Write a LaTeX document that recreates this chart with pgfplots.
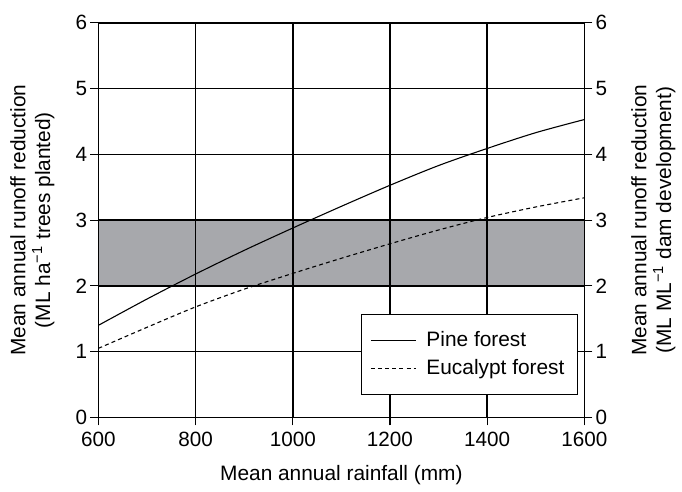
\documentclass[border=0pt]{standalone}
\usepackage{pgfplots}
\pgfplotsset{compat=1.18}
\usepackage{fontspec}
\setmainfont{Liberation Sans}
\definecolor{bandgray}{RGB}{167,168,172}
\pgfplotstableread{
x y
600 1.40
700 1.80
800 2.18
900 2.54
1000 2.88
1100 3.21
1200 3.53
1300 3.83
1400 4.09
1500 4.33
1600 4.53
}\pine
\pgfplotstableread{
x y
600 1.05
700 1.37
800 1.68
900 1.95
1000 2.19
1100 2.42
1200 2.64
1300 2.85
1400 3.04
1500 3.20
1600 3.34
}\euc
\begin{document}
\begin{tikzpicture}
\pgfplotsset{every axis/.append style={
  scale only axis, width=244.5pt, height=198.5pt,
  xmin=600, xmax=1600, ymin=0, ymax=6,
  tick align=outside, major tick length=4pt,
  tick style={black, line width=0.6pt},
  axis line style={line width=0.8pt},
  /pgf/number format/assume math mode=true,
  tick label style={font=\fontsize{10.4}{12}\selectfont},
  yticklabel style={inner sep=1.5pt},
  label style={font=\fontsize{10.5}{12.4}\selectfont, align=center},
  /pgf/number format/1000 sep={},
}}
\begin{axis}[
  axis on top,
  xtick={600,800,...,1600}, ytick={0,...,6},
  xtick pos=bottom, ytick pos=left,
  grid=major, major grid style={black, line width=0.8pt},
  xlabel={Mean annual rainfall (mm)},
  ylabel={Mean annual runoff reduction\\(ML ha\textsuperscript{−1} trees planted)},
  xlabel style={at={(axis description cs:0.5,-0.146)}, anchor=center},
  ylabel style={at={(axis description cs:-0.136,0.5)}, anchor=center},
  legend style={at={(axis cs:1587,0.34)}, anchor=south east, draw=black, line width=0.6pt,
    font=\fontsize{10.5}{12.4}\selectfont, row sep=1pt, column sep=3pt, inner xsep=4.5pt, inner ysep=6.5pt},
  legend cell align=left,
  legend image code/.code={\draw[#1] (0cm,0cm) -- (0.8cm,0cm);},
]
\addplot[fill=bandgray, draw=none, forget plot] coordinates {(600,2) (1600,2) (1600,3) (600,3)} -- cycle;
\addplot[black, line width=0.55pt, smooth] table[x=x,y=y] {\pine};
\addlegendentry{Pine forest}
\addplot[black, line width=0.55pt, smooth, dash pattern=on 2pt off 1.6pt] table[x=x,y=y] {\euc};
\addlegendentry{Eucalypt forest}
\end{axis}
\begin{axis}[
  clip=false,
  axis x line=none, axis y line*=right,
  ytick={0,...,6}, xtick=\empty,
  ylabel={Mean annual runoff reduction\\(ML ML\textsuperscript{−1} dam development)},
  ylabel style={at={(axis description cs:1.142,0.5)}, anchor=center},
]
\path (axis description cs:-0.2025,-0.166) rectangle (axis description cs:1.192,1.058);
\end{axis}
\end{tikzpicture}
\end{document}
